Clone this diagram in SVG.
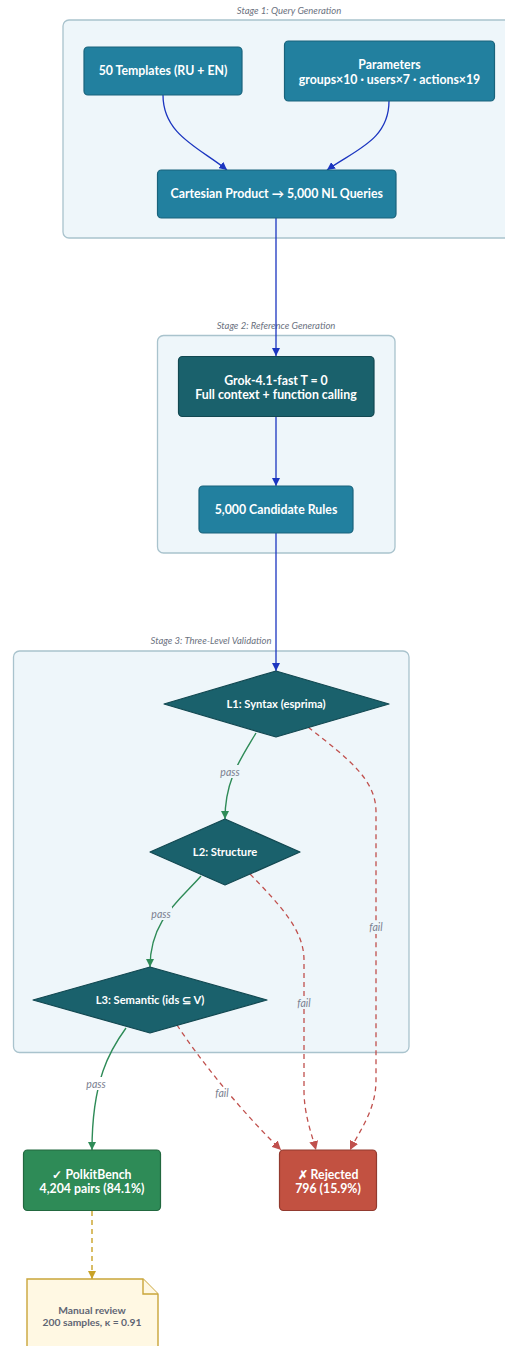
<svg xmlns="http://www.w3.org/2000/svg" width="505" height="1346" viewBox="0 0 505 1346">
<defs>
<style>
.cl{fill:#eef6fa;stroke:#a9c3cd;stroke-width:1.3}
.ct{font-family:Lato,"Noto Sans",sans-serif;font-style:italic;font-size:9.5px;fill:#6b7280;text-anchor:middle}
.nl{fill:#22809f;stroke:#19637c;stroke-width:1.2}
.nd{fill:#1a616c;stroke:#124851;stroke-width:1.2}
.ng{fill:#2e8b57;stroke:#22683f;stroke-width:1.2}
.nr{fill:#c25141;stroke:#923a2f;stroke-width:1.2}
.nn{fill:#fff8e3;stroke:#c9a53a;stroke-width:1.4}
.t{font-family:Lato,"Noto Sans",sans-serif;font-weight:bold;font-size:12.3px;fill:#ffffff;text-anchor:middle}
.td{font-family:Lato,"Noto Sans",sans-serif;font-weight:bold;font-size:11.2px;fill:#ffffff;text-anchor:middle}
.tn{font-family:Lato,"Noto Sans",sans-serif;font-weight:bold;font-size:10.3px;fill:#5f6674;text-anchor:middle}
.el{font-family:Lato,"Noto Sans",sans-serif;font-style:italic;font-size:10.5px;fill:#7a8090;text-anchor:middle}
.eb{fill:none;stroke:#1b35c0;stroke-width:1.3}
.eg{fill:none;stroke:#2e8b57;stroke-width:1.4}
.er{fill:none;stroke:#c0504d;stroke-width:1.3;stroke-dasharray:5,4}
.ey{fill:none;stroke:#c9a227;stroke-width:1.4;stroke-dasharray:5,4}
</style>
<marker id="ab" viewBox="0 0 10 10" refX="10" refY="5" markerWidth="8" markerHeight="8" markerUnits="userSpaceOnUse" orient="auto"><path d="M0,0L10,5L0,10z" fill="#1b35c0"/></marker>
<marker id="ag" viewBox="0 0 10 10" refX="10" refY="5" markerWidth="8" markerHeight="8" markerUnits="userSpaceOnUse" orient="auto"><path d="M0,0L10,5L0,10z" fill="#2e8b57"/></marker>
<marker id="ar" viewBox="0 0 10 10" refX="10" refY="5" markerWidth="9" markerHeight="9" markerUnits="userSpaceOnUse" orient="auto"><path d="M0,0L10,5L0,10z" fill="#c0504d"/></marker>
<marker id="ay" viewBox="0 0 10 10" refX="10" refY="5" markerWidth="8" markerHeight="8" markerUnits="userSpaceOnUse" orient="auto"><path d="M0,0L10,5L0,10z" fill="#c9a227"/></marker>
</defs>
<rect width="505" height="1346" fill="#ffffff"/>
<g id="clusters">
<g id="stage1"><rect class="cl" x="63" y="20" width="450" height="218" rx="6"/><text class="ct" x="289" y="14">Stage 1: Query Generation</text></g>
<g id="stage2"><rect class="cl" x="157.5" y="335.5" width="237.5" height="217.5" rx="6"/><text class="ct" x="276" y="329">Stage 2: Reference Generation</text></g>
<g id="stage3"><rect class="cl" x="13.5" y="651" width="395.5" height="401.5" rx="6"/><text class="ct" x="211" y="644">Stage 3: Three-Level Validation</text></g>
</g>
<g id="connectors">
<path class="eb" d="M163,95 C163,135 200,148 227,170" marker-end="url(#ab)"/>
<path class="eb" d="M389,101 C389,140 355,150 327,170" marker-end="url(#ab)"/>
<path class="eb" d="M276,218 L276,356" marker-end="url(#ab)"/>
<path class="eb" d="M276,417 L276,486" marker-end="url(#ab)"/>
<path class="eb" d="M276,533 L276,671" marker-end="url(#ab)"/>
<path class="eg" d="M256,733 C240,760 225,780 225,819" marker-end="url(#ag)"/>
<path class="eg" d="M201,876 C180,900 150,920 150,967" marker-end="url(#ag)"/>
<path class="eg" d="M126,1028 C110,1050 92,1080 92,1150" marker-end="url(#ag)"/>
<path class="er" d="M308,727 C350,760 376,780 376,812 L376,1080 C376,1110 360,1130 350,1150" marker-end="url(#ar)"/>
<path class="er" d="M250,874 C280,905 304,930 304,960 L304,1090 C304,1115 312,1135 316,1150" marker-end="url(#ar)"/>
<path class="er" d="M177,1025 C200,1060 240,1110 281,1150" marker-end="url(#ar)"/>
<path class="ey" d="M92,1211 L92,1279" marker-end="url(#ay)"/>
<rect x="219" y="765" width="22" height="13" fill="#eef6fa"/><text class="el" x="230" y="776">pass</text>
<rect x="150" y="907" width="22" height="13" fill="#eef6fa"/><text class="el" x="161" y="918">pass</text>
<rect x="85" y="1077" width="22" height="13" fill="#ffffff"/><text class="el" x="96" y="1088">pass</text>
<rect x="367" y="921" width="18" height="13" fill="#eef6fa"/><text class="el" x="376" y="931">fail</text>
<rect x="295" y="996" width="18" height="13" fill="#eef6fa"/><text class="el" x="304" y="1007">fail</text>
<rect x="213" y="1087" width="18" height="13" fill="#ffffff"/><text class="el" x="222" y="1097">fail</text>
</g>
<g id="templates"><rect class="nl" x="84" y="47" width="158" height="48" rx="4"/><text class="t" x="163" y="75">50 Templates (RU + EN)</text></g>
<g id="parameters"><rect class="nl" x="284.5" y="41" width="210" height="60" rx="4"/><text class="t" x="389.5" y="69">Parameters</text><text class="t" x="389.5" y="84">groups×10 · users×7 · actions×19</text></g>
<g id="cartesian"><rect class="nl" x="157.5" y="170" width="238.5" height="48" rx="4"/><text class="t" x="276.7" y="198">Cartesian Product → 5,000 NL Queries</text></g>
<g id="grok"><rect class="nd" x="178.5" y="356.5" width="195.5" height="60" rx="4"/><text class="t" x="276" y="385">Grok-4.1-fast T = 0</text><text class="t" x="276" y="399">Full context + function calling</text></g>
<g id="candidates"><rect class="nl" x="199" y="486" width="154" height="47" rx="4"/><text class="t" x="276" y="514">5,000 Candidate Rules</text></g>
<g id="l1"><path class="nd" d="M276,671 L389,704 L276,737 L164,704 Z" stroke-linejoin="round"/><text class="td" x="276" y="708">L1: Syntax (esprima)</text></g>
<g id="l2"><path class="nd" d="M225,819 L300,852 L225,885 L150,852 Z" stroke-linejoin="round"/><text class="td" x="225" y="856">L2: Structure</text></g>
<g id="l3"><path class="nd" d="M150,967 L267,1000 L150,1033 L33,1000 Z" stroke-linejoin="round"/><text class="td" x="150" y="1004">L3: Semantic (ids ⊆ V)</text></g>
<g id="polkitbench"><rect class="ng" x="23.5" y="1150" width="137" height="60.5" rx="4"/><text class="t" x="92" y="1179">✓ PolkitBench</text><text class="t" x="92" y="1193">4,204 pairs (84.1%)</text></g>
<g id="rejected"><rect class="nr" x="279.5" y="1150" width="97" height="60.5" rx="4"/><text class="t" x="328" y="1179">✗ Rejected</text><text class="t" x="328" y="1193">796 (15.9%)</text></g>
<g id="review"><path class="nn" d="M27,1279 L143,1279 L158,1294 L158,1350 L27,1350 Z"/><path class="nn" d="M143,1279 L143,1294 L158,1294" fill="none"/><text class="tn" x="92" y="1314">Manual review</text><text class="tn" x="92" y="1326">200 samples, κ = 0.91</text></g>
</svg>
